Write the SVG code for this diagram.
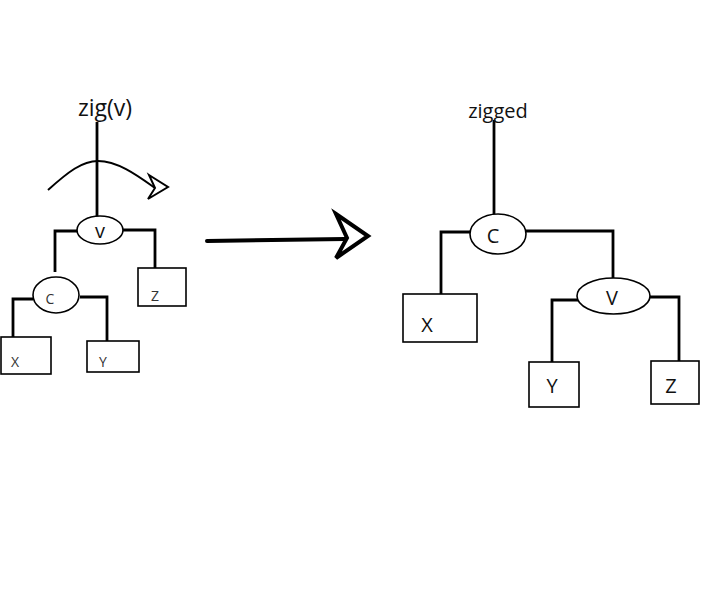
<svg xmlns="http://www.w3.org/2000/svg" width="710" height="599" viewBox="0 0 710 599">
<style>
.e{fill:#fff;stroke:#000;stroke-width:1.6}
.b{fill:#fff;stroke:#000;stroke-width:1.6}
.l{fill:none;stroke:#000;stroke-width:2.8}
text{font-family:"Open Sans","Noto Sans",sans-serif;fill:#111}
.s{font-size:14px;fill:#333}
.m{font-size:20px}
</style>
<rect width="710" height="599" fill="#fff"/>
<g id="connectors">
<path class="l" d="M97,122 V218"/>
<path d="M48,190 C68,172 82,161 98,161 C118,161 138,176 155,188" fill="none" stroke="#000" stroke-width="2"/>
<polygon points="149,175 168,187 148,199 155,188" fill="#fff" stroke="#000" stroke-width="2"/>
<path class="l" d="M77,231 H55 V272"/>
<path class="l" d="M123,230 H155 V268"/>
<path class="l" d="M33,299 H13 V338"/>
<path class="l" d="M80,297 H107 V342"/>
<path d="M207,241 L345,239" stroke="#000" stroke-width="4" stroke-linecap="round" fill="none"/>
<polygon points="336,214 368,236 336,258 347,238" fill="#fff" stroke="#000" stroke-width="4"/>
<path class="l" d="M494,120 V214"/>
<path class="l" d="M470,232 H441 V300"/>
<path class="l" d="M526,231 H613 V280"/>
<path class="l" d="M583,300 H552 V368"/>
<path class="l" d="M650,297 H679 V367"/>
</g>
<g id="zig-label"><text x="105" y="116" font-size="23" text-anchor="middle">zig(v)</text></g>
<g id="v1"><ellipse class="e" cx="100" cy="230" rx="23" ry="14"/><text class="m" x="100" y="238" text-anchor="middle">v</text></g>
<g id="c1"><ellipse class="e" cx="56" cy="295" rx="23" ry="18"/><text class="s" x="50" y="304" text-anchor="middle">C</text></g>
<g id="z1"><rect class="b" x="138" y="268" width="48" height="38"/><text class="s" x="155" y="301" text-anchor="middle">Z</text></g>
<g id="x1"><rect class="b" x="1" y="337" width="50" height="37"/><text class="s" x="15" y="367" text-anchor="middle">X</text></g>
<g id="y1"><rect class="b" x="87" y="341" width="52" height="31"/><text class="s" x="103" y="367" text-anchor="middle">Y</text></g>
<g id="zigged-label"><text x="498" y="118" font-size="20" fill="#333" text-anchor="middle">zigged</text></g>
<g id="c2"><ellipse class="e" cx="498" cy="234" rx="28" ry="20"/><text class="m" x="493" y="243" text-anchor="middle">C</text></g>
<g id="x2"><rect class="b" x="403" y="294" width="74" height="48"/><text class="m" x="427" y="332" text-anchor="middle">X</text></g>
<g id="v2"><ellipse class="e" cx="613.5" cy="296" rx="36.5" ry="18"/><text class="m" x="612" y="305" text-anchor="middle">V</text></g>
<g id="y2"><rect class="b" x="529" y="362" width="50" height="45"/><text class="m" x="552" y="393" text-anchor="middle">Y</text></g>
<g id="z2"><rect class="b" x="651" y="361" width="48" height="43"/><text class="m" x="671" y="393" text-anchor="middle">Z</text></g>
</svg>
